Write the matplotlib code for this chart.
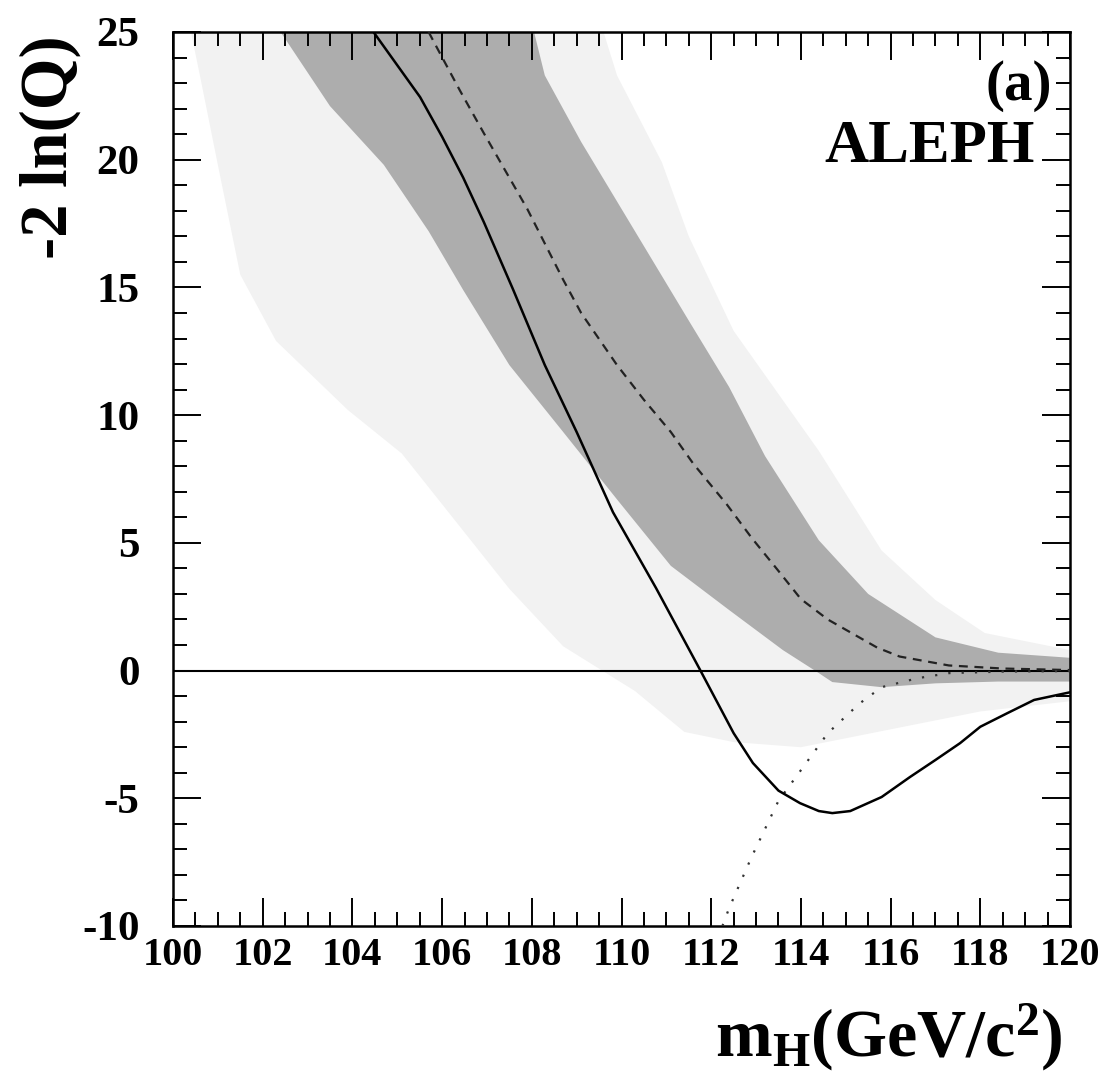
import matplotlib
matplotlib.use("Agg")
import matplotlib.pyplot as plt
from matplotlib.ticker import MultipleLocator

# ==================================================
# DATA
# ==================================================

obs_x = [104.47, 105.0, 105.51, 106.0, 106.47, 106.93, 107.58, 108.29, 109.0, 109.81,
         110.77, 111.73, 112.5, 112.93, 113.5, 113.98, 114.4, 114.7, 115.1, 115.8,
         116.43, 117.0, 117.55, 118.0, 118.6, 119.2, 120.0]
obs_y = [25.0, 23.7, 22.45, 20.9, 19.3, 17.56, 14.93, 11.96, 9.34, 6.2,
         3.23, 0.1, -2.45, -3.62, -4.7, -5.19, -5.5, -5.58, -5.5, -4.95,
         -4.17, -3.5, -2.84, -2.2, -1.67, -1.15, -0.85]

bkg_x = [105.7, 105.82, 106.4, 106.93, 107.4, 107.9, 108.7, 109.1, 109.9, 110.5,
         111.1, 111.6, 112.35, 112.9, 113.5, 114.0, 114.6, 115.1, 115.7, 116.2,
         117.3, 118.5, 120.0]
bkg_y = [25.0, 24.6, 22.7, 21.04, 19.6, 18.07, 15.3, 14.0, 11.96, 10.6,
         9.34, 8.1, 6.5, 5.2, 3.9, 2.8, 2.0, 1.5, 0.9, 0.55,
         0.2, 0.08, 0.02]

sig_x = [112.25, 112.4, 112.9, 113.5, 114.0, 114.6, 115.3, 115.8, 116.6, 117.3,
         118.5, 120.0]
sig_y = [-10.0, -9.3, -7.3, -5.1, -3.9, -2.45, -1.3, -0.65, -0.3, -0.1,
         -0.04, -0.02]

# 1 sigma band edges
s1_up_x = [108.05, 108.29, 109.1, 110.3, 111.5, 112.4, 113.2, 114.4, 115.5, 117.0,
           118.4, 120.0]
s1_up_y = [25.0, 23.3, 20.7, 17.2, 13.7, 11.1, 8.4, 5.1, 3.0, 1.3,
           0.7, 0.5]
s1_lo_x = [102.4, 103.5, 104.7, 105.7, 106.47, 107.5, 108.7, 109.9, 111.1, 112.4,
           113.6, 114.4, 114.7, 115.8, 117.0, 118.4, 120.0]
s1_lo_y = [25.0, 22.1, 19.8, 17.2, 14.9, 11.96, 9.34, 6.7, 4.1, 2.37,
           0.8, -0.1, -0.45, -0.65, -0.5, -0.43, -0.43]

# 2 sigma band edges
s2_up_x = [109.6, 109.9, 110.9, 111.5, 112.5, 114.4, 115.8, 117.0, 118.1, 120.0]
s2_up_y = [25.0, 23.3, 19.9, 17.0, 13.3, 8.6, 4.7, 2.76, 1.47, 0.8]
s2_lo_x = [100.4, 100.6, 101.0, 101.5, 102.3, 103.9, 105.1, 106.3, 107.5, 108.7,
           110.3, 111.4, 112.5, 114.0, 116.0, 118.0, 120.0]
s2_lo_y = [25.0, 23.3, 19.8, 15.5, 12.9, 10.2, 8.5, 5.85, 3.2, 0.95,
           -0.8, -2.4, -2.8, -3.0, -2.3, -1.6, -1.2]

x_ticks = [100, 102, 104, 106, 108, 110, 112, 114, 116, 118, 120]
y_ticks = [-10, -5, 0, 5, 10, 15, 20, 25]

# ==================================================
# STYLE
# ==================================================

plt.rcParams["font.family"] = "Liberation Serif"
plt.rcParams["font.weight"] = "bold"
plt.rcParams["axes.unicode_minus"] = False
plt.rcParams["mathtext.fontset"] = "custom"
plt.rcParams["mathtext.rm"] = "Liberation Serif:bold"
plt.rcParams["mathtext.it"] = "Liberation Serif:bold"
plt.rcParams["mathtext.bf"] = "Liberation Serif:bold"

W, H = 1106, 1092
fig = plt.figure(figsize=(W / 100, H / 100), dpi=100)
ax = fig.add_axes([173 / W, 1 - 926 / H, (1070 - 173) / W, (926 - 32) / H])


def fill_between_edges(ax, ux, uy, lx, ly, color):
    # polygon: upper edge forward, lower edge backward
    xs = list(ux) + list(reversed(lx))
    ys = list(uy) + list(reversed(ly))
    ax.fill(xs, ys, color=color, lw=0, zorder=1)


# light band, closed along the top of the frame
fill_between_edges(ax, s2_up_x, s2_up_y, s2_lo_x, s2_lo_y, "#f2f2f2")
ax.fill([s2_lo_x[0], s2_up_x[0], s2_up_x[0], s2_lo_x[0]], [25, 25, 30, 30],
        color="#f2f2f2", lw=0, zorder=1)
fill_between_edges(ax, s1_up_x, s1_up_y, s1_lo_x, s1_lo_y, "#adadad")

ax.axhline(0, color="black", lw=1.5, zorder=2)
ax.plot(bkg_x, bkg_y, color="#222222", lw=1.6, dashes=(4, 3), zorder=3)
ax.plot(sig_x, sig_y, color="#333333", lw=1.6, linestyle=(0, (1, 5)), zorder=3)
ax.plot(obs_x, obs_y, color="black", lw=1.8, zorder=4)

ax.set_xlim(100, 120)
ax.set_ylim(-10, 25)
ax.set_xticks(x_ticks)
ax.set_yticks(y_ticks)
ax.xaxis.set_minor_locator(MultipleLocator(0.5))
ax.yaxis.set_minor_locator(MultipleLocator(1))

ax.tick_params(which="both", direction="in", top=True, right=True, width=1.4)
ax.tick_params(which="major", length=20)
ax.tick_params(which="minor", length=10)
ax.tick_params(axis="x", which="major", labelsize=29, pad=8)
ax.tick_params(axis="y", which="major", labelsize=31, pad=24)
for lab in ax.get_xticklabels() + ax.get_yticklabels():
    lab.set_fontweight("bold")
for sp in ax.spines.values():
    sp.set_linewidth(1.8)

# ==================================================
# TEXT
# ==================================================

fig.text(50 / W, 1 - 35 / H, "-2 ln(Q)", rotation=90, ha="center", va="top",
         fontsize=48, fontweight="bold")
fig.text(1062 / W, 1 - 1057 / H, r"$\mathrm{m_H(GeV/c^2)}$", ha="right",
         va="baseline", fontsize=49)
fig.text(1052 / W, 1 - 100 / H, "(a)", ha="right", va="baseline",
         fontsize=41, fontweight="bold")
fig.text(1035 / W, 1 - 162 / H, "ALEPH", ha="right", va="baseline",
         fontsize=44, fontweight="bold")

fig.savefig("out.png", dpi=100)
